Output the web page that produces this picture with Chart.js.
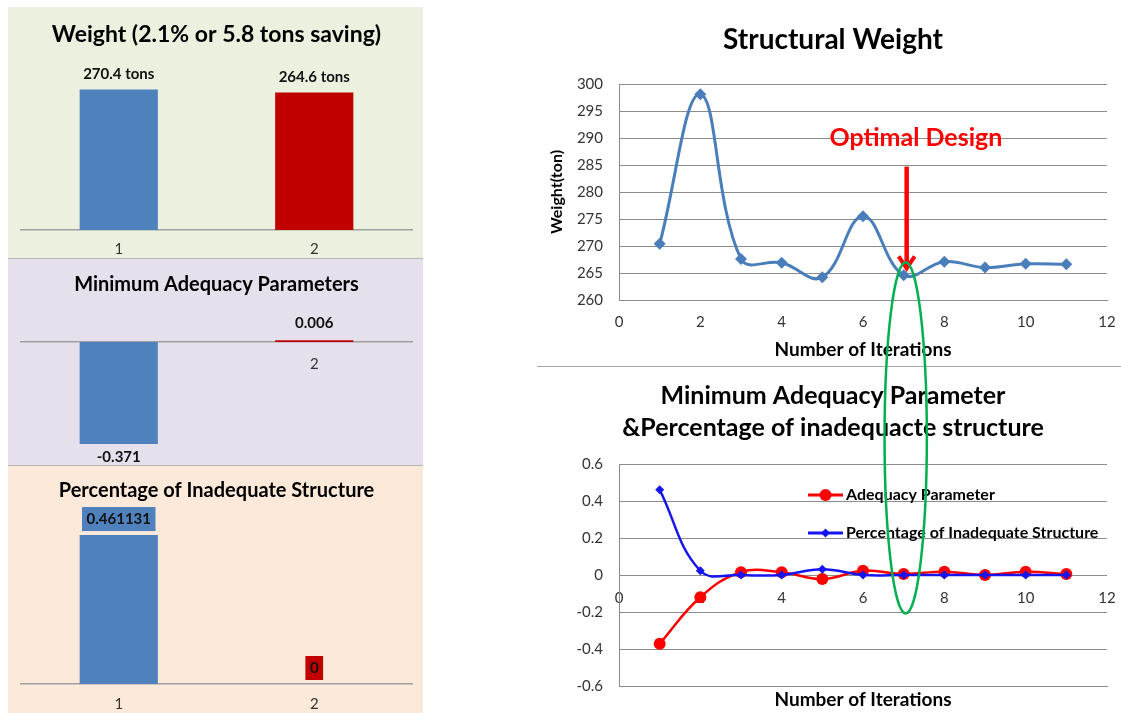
<!DOCTYPE html>
<html>
<head>
<meta charset="utf-8">
<title>Structural Weight Optimization</title>
<script src="https://cdn.jsdelivr.net/npm/chart.js@4.4.1/dist/chart.umd.min.js"></script>
<style>
  body { margin: 0; width: 1121px; height: 713px; background: #fff; position: relative; overflow: hidden; }
  canvas, .panel, .sep { position: absolute; display: block; }
  .panel { left: 8px; width: 415px; }
  #p1 { top: 7px; height: 251px; background: #EBF1DE; }
  #p2 { top: 259px; height: 206px; background: #E5E0EC; }
  #p3 { top: 466px; height: 247px; background: #FDE9D9; }
  .sep { left: 8px; width: 415px; height: 1px; background: #B5B5B5; }
  #weightChart { left: 537px; top: 10px; }
  #paramChart { left: 537px; top: 368px; }
  #overlay { left: 537px; top: 0; pointer-events: none; }
</style>
</head>
<body>
<div class="panel" id="p1"><canvas id="barWeight" width="415" height="251"></canvas></div>
<div class="sep" style="top:258px"></div>
<div class="panel" id="p2"><canvas id="barAdequacy" width="415" height="206"></canvas></div>
<div class="sep" style="top:465px"></div>
<div class="panel" id="p3"><canvas id="barInadequate" width="415" height="247"></canvas></div>
<canvas id="weightChart" width="584" height="356"></canvas>
<div class="sep" style="left:537px;width:584px;top:366px;background:#A6A6A6"></div>
<canvas id="paramChart" width="584" height="345"></canvas>
<canvas id="overlay" width="584" height="713"></canvas>
<script>
// bar panels (before / after)
const barCategories = ['1', '2'];
const weightTotals = [270.4, 264.6];
const minAdequacy = [-0.371, 0.006];
const inadequatePct = [0.461131, 0];

// iteration history
const iterations = [1, 2, 3, 4, 5, 6, 7, 8, 9, 10, 11];
const weightSeries = [270.4, 298.1, 267.6, 266.9, 264.2, 275.5, 264.6, 267.1, 266.0, 266.7, 266.6];
const adequacySeries = [-0.371, -0.12, 0.015, 0.015, -0.022, 0.023, 0.006, 0.018, 0.0, 0.018, 0.005];
const inadequateSeries = [0.461131, 0.023, 0, 0, 0.031, 0, 0, 0, 0, 0, 0];

const iterTicks = [0, 2, 4, 6, 8, 10, 12];
const weightTicks = [260, 265, 270, 275, 280, 285, 290, 295, 300];
const paramTicks = [-0.6, -0.4, -0.2, 0, 0.2, 0.4, 0.6];
const optimalIteration = 7;

const FONT = 'Lato';
const barColors = ['#4F81BD', '#C00000'];
const gridGray = '#8C8C8C';
Chart.defaults.font.family = FONT;
Chart.defaults.color = '#333';

const useTicks = arr => scale => { scale.ticks = arr.map(v => ({ value: v })); };

// value labels on the bars
const barValuePlugin = {
  id: 'barValues',
  afterDatasetsDraw(chart, args, o) {
    const ctx = chart.ctx;
    const ds = chart.data.datasets[0];
    chart.getDatasetMeta(0).data.forEach((bar, i) => {
      const v = ds.data[i];
      const text = o.format(v);
      const y = v >= 0 ? bar.y - o.above : bar.y + o.below;
      ctx.save();
      ctx.font = 'bold 15px ' + FONT;
      ctx.textAlign = 'center';
      ctx.textBaseline = 'middle';
      if (o.boxed) {
        const w = ctx.measureText(text).width + 9;
        ctx.fillStyle = ds.backgroundColor[i];
        ctx.fillRect(bar.x - w / 2, y - 12, w, 24);
      }
      ctx.fillStyle = '#111';
      ctx.fillText(text, bar.x, y);
      ctx.restore();
    });
  }
};

function barPanel(id, cfg) {
  return new Chart(document.getElementById(id), {
    type: 'bar',
    data: {
      labels: barCategories,
      datasets: [{ data: cfg.values, backgroundColor: barColors, barPercentage: 0.4, categoryPercentage: 1 }]
    },
    options: {
      responsive: false,
      animation: false,
      layout: { padding: { left: 13, right: 11, top: 0, bottom: cfg.padBottom } },
      plugins: {
        legend: { display: false },
        tooltip: { enabled: false },
        title: {
          display: true, text: cfg.title, color: '#000',
          font: { size: cfg.titleSize, weight: 'bold' },
          padding: cfg.titlePad
        },
        barValues: cfg.labels
      },
      scales: {
        x: {
          position: cfg.xPos, axis: 'x', z: 1,
          grid: { display: false, drawTicks: false },
          border: { color: '#A0A0A0', width: 1.5 },
          ticks: { color: '#333', font: { size: 15 }, padding: cfg.tickPad },
          afterFit: cfg.xHeight ? (s => { s.height = cfg.xHeight; }) : undefined
        },
        y: { display: false, min: cfg.min, max: cfg.max }
      }
    },
    plugins: [barValuePlugin]
  });
}

barPanel('barWeight', {
  values: weightTotals, title: 'Weight (2.1% or 5.8 tons saving)', titleSize: 23,
  titlePad: { top: 14.2, bottom: 25.2 }, padBottom: 0, xPos: 'bottom', xHeight: 28, tickPad: 10,
  min: 0, max: 300,
  labels: { format: v => v + ' tons', above: 15, below: 13 }
});
barPanel('barAdequacy', {
  values: minAdequacy, title: 'Minimum Adequacy Parameters', titleSize: 20,
  titlePad: { top: 14, bottom: 17.5 }, padBottom: 13, xPos: { y: 0 }, tickPad: 13,
  min: -0.4, max: 0.1,
  labels: { format: v => String(v), above: 17, below: 13 }
});
barPanel('barInadequate', {
  values: inadequatePct, title: 'Percentage of Inadequate Structure', titleSize: 20,
  titlePad: { top: 13, bottom: 19.5 }, padBottom: 0, xPos: 'bottom', xHeight: 29, tickPad: 11,
  min: 0, max: 0.5,
  labels: { format: v => String(v), above: 16, below: 13, boxed: true }
});

// red arrow + caption pointing at the optimum
const optimalPlugin = {
  id: 'optimalMark',
  afterDatasetsDraw(chart, args, o) {
    const { ctx, scales: { x, y } } = chart;
    const px = x.getPixelForValue(o.at) + 3;
    const yTop = y.getPixelForValue(o.from);
    const yTip = y.getPixelForValue(o.to);
    ctx.save();
    ctx.strokeStyle = '#FF0000';
    ctx.fillStyle = '#FF0000';
    ctx.lineWidth = 4.5;
    ctx.beginPath();
    ctx.moveTo(px, yTop);
    ctx.lineTo(px, yTip - 3);
    ctx.stroke();
    ctx.lineWidth = 4;
    ctx.beginPath();
    ctx.moveTo(px - 8, yTip - 14);
    ctx.lineTo(px, yTip - 2);
    ctx.lineTo(px + 8, yTip - 14);
    ctx.stroke();
    ctx.font = 'bold 25px ' + FONT;
    ctx.textAlign = 'center';
    ctx.textBaseline = 'middle';
    ctx.fillText(o.text, x.getPixelForValue(o.textAt), y.getPixelForValue(o.textY));
    ctx.restore();
  }
};

// legend drawn inside the plot area
const inlineLegend = {
  id: 'inlineLegend',
  afterDraw(chart, args, o) {
    const { ctx, chartArea } = chart;
    chart.data.datasets.forEach((ds, i) => {
      const x0 = chartArea.left + o.left;
      const y = chartArea.top + o.top + i * o.spacing;
      ctx.save();
      ctx.strokeStyle = ds.borderColor;
      ctx.lineWidth = 3;
      ctx.beginPath();
      ctx.moveTo(x0, y);
      ctx.lineTo(x0 + 35, y);
      ctx.stroke();
      ctx.fillStyle = ds.backgroundColor;
      const r = ds.pointRadius;
      const mx = x0 + 17.5;
      ctx.beginPath();
      if (ds.pointStyle === 'circle') {
        ctx.arc(mx, y, r, 0, Math.PI * 2);
      } else {
        ctx.moveTo(mx, y - r); ctx.lineTo(mx + r, y); ctx.lineTo(mx, y + r); ctx.lineTo(mx - r, y); ctx.closePath();
      }
      ctx.fill();
      ctx.fillStyle = '#000';
      ctx.font = 'bold 16px ' + FONT;
      ctx.textBaseline = 'middle';
      ctx.fillText(ds.label, x0 + 38, y);
      ctx.restore();
    });
  }
};

// y axis: 60px wide + 22px layout padding = plot starts at 82px
const commonY = (ticks, title) => ({
  grid: { color: gridGray, drawTicks: false },
  border: { color: gridGray },
  ticks: { padding: 16, color: '#333', font: { size: 15 } },
  afterBuildTicks: useTicks(ticks),
  afterFit: s => { s.width = 60; },
  title: title
});

const iterAxisTicks = {
  afterBuildTicks: useTicks(iterTicks),
  grid: { display: false, drawTicks: true, tickLength: 13 },
  ticks: { padding: 0, color: '#333', font: { size: 15 } }
};

const weightChart = new Chart(document.getElementById('weightChart'), {
  type: 'line',
  data: {
    datasets: [{
      label: 'Weight',
      data: iterations.map((it, i) => ({ x: it, y: weightSeries[i] })),
      borderColor: '#4A7EBB', backgroundColor: '#4A7EBB', borderWidth: 3,
      tension: 0.4, pointStyle: 'rectRot', pointRadius: 6, pointBorderWidth: 0
    }]
  },
  options: {
    responsive: false,
    animation: false,
    layout: { padding: { left: 22, right: 14, top: 0, bottom: 0 } },
    plugins: {
      legend: { display: false },
      tooltip: { enabled: false },
      title: { display: true, text: 'Structural Weight', color: '#000', font: { size: 28, weight: 'bold' }, padding: { top: 13.2, bottom: 27.2 } },
      optimalMark: { at: optimalIteration, from: 284.7, to: 265.5, text: 'Optimal Design', textAt: 7.3, textY: 290 }
    },
    scales: {
      x: Object.assign({
        type: 'linear', min: 0, max: 12,
        border: { color: gridGray },
        title: { display: true, text: 'Number of Iterations', color: '#000', font: { size: 19, weight: 'bold' }, padding: { top: 0, bottom: 4.6 } },
        afterFit: s => { s.height = 66; }
      }, iterAxisTicks),
      y: Object.assign({ min: 260, max: 300 }, commonY(weightTicks,
        { display: true, text: 'Weight(ton)', color: '#000', font: { size: 16, weight: 'bold' }, padding: { top: -11.6, bottom: 0 } }))
    }
  },
  plugins: [optimalPlugin]
});

const paramChart = new Chart(document.getElementById('paramChart'), {
  type: 'line',
  data: {
    datasets: [{
      label: 'Adequacy Parameter',
      data: iterations.map((it, i) => ({ x: it, y: adequacySeries[i] })),
      borderColor: '#FF0000', backgroundColor: '#FF0000', borderWidth: 2.5,
      tension: 0.4, pointStyle: 'circle', pointRadius: 6, pointBorderWidth: 0, order: 1
    }, {
      label: 'Percentage of Inadequate Structure',
      data: iterations.map((it, i) => ({ x: it, y: inadequateSeries[i] })),
      borderColor: '#1515F0', backgroundColor: '#1515F0', borderWidth: 2.5,
      tension: 0.4, pointStyle: 'rectRot', pointRadius: 4.5, pointBorderWidth: 0, order: 0
    }]
  },
  options: {
    responsive: false,
    animation: false,
    layout: { padding: { left: 22, right: 14, top: 0, bottom: 0 } },
    plugins: {
      legend: { display: false },
      tooltip: { enabled: false },
      title: {
        display: true, color: '#000',
        text: ['Minimum Adequacy Parameter', '&Percentage of inadequacte structure'],
        font: { size: 25, weight: 'bold', lineHeight: 32 / 25 },
        padding: { top: 12, bottom: 20 }
      },
      inlineLegend: { left: 189, top: 31, spacing: 38 }
    },
    scales: {
      x: {
        type: 'linear', min: 0, max: 12,
        ticks: { display: false },
        grid: { display: false, drawTicks: false },
        border: { color: gridGray },
        title: { display: true, text: 'Number of Iterations', color: '#000', font: { size: 19, weight: 'bold' }, padding: { top: 0, bottom: 1.6 } },
        afterFit: s => { s.height = 27; }
      },
      x2: Object.assign({
        type: 'linear', axis: 'x', position: { y: 0 }, min: 0, max: 12,
        border: { display: false }
      }, iterAxisTicks, { grid: { display: false, drawTicks: true, tickLength: 14 } }),
      y: Object.assign({ min: -0.6, max: 0.6 }, commonY(paramTicks, { display: false }))
    }
  },
  plugins: [inlineLegend]
});

// green ellipse spanning both charts around the optimal iteration
(function drawEllipse() {
  const ctx = document.getElementById('overlay').getContext('2d');
  const xs = weightChart.scales.x;
  const cx = xs.getPixelForValue(optimalIteration + 0.05);
  const rx = xs.getPixelForValue(optimalIteration + 0.52) - xs.getPixelForValue(optimalIteration);
  const top = weightChart.canvas.offsetTop + weightChart.scales.y.getPixelForValue(267.0);
  const bottom = paramChart.canvas.offsetTop + paramChart.scales.y.getPixelForValue(-0.208);
  ctx.strokeStyle = '#00B050';
  ctx.lineWidth = 2.5;
  ctx.beginPath();
  ctx.ellipse(cx, (top + bottom) / 2, rx, (bottom - top) / 2, 0, 0, Math.PI * 2);
  ctx.stroke();
})();
</script>
</body>
</html>
